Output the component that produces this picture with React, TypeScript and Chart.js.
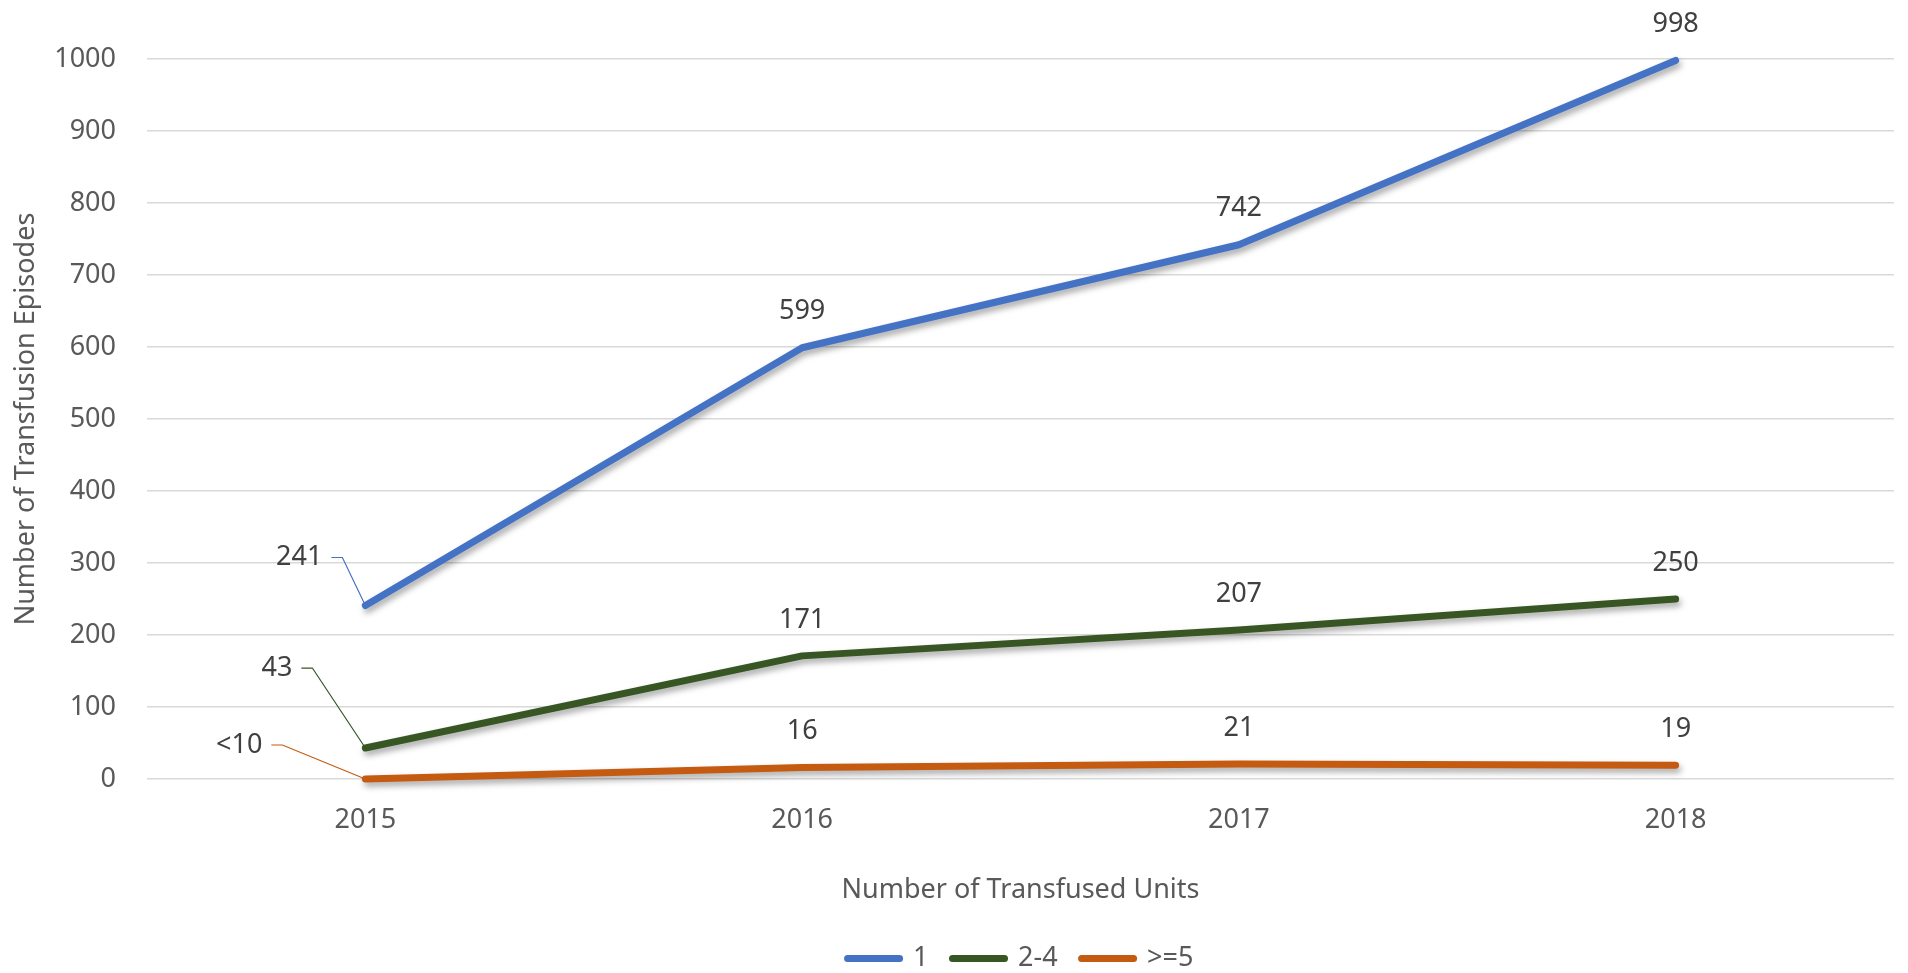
import React, { useEffect, useRef } from "react";
import { Chart, registerables } from "chart.js";

Chart.register(...registerables);

// ---- Data ----
const years = ["2015", "2016", "2017", "2018"];
const seriesNames = ["1", "2-4", ">=5"];
const oneUnit = [241, 599, 742, 998];
const twoToFour = [43, 171, 207, 250];
const fivePlus = [0, 16, 21, 19];
const oneUnitLabels = ["241", "599", "742", "998"];
const twoToFourLabels = ["43", "171", "207", "250"];
const fivePlusLabels = ["<10", "16", "21", "19"];
const yMin = 0;
const yMax = 1000;
const yStep = 100;
const xTitle = "Number of Transfused Units";
const yTitle = "Number of Transfusion Episodes";

// ---- Style ----
const COLORS = ["#4472C4", "#375623", "#C55A11"];
const FONT = '"Noto Sans", "Open Sans", sans-serif';
const AXIS_TEXT = "#595959";
const LABEL_TEXT = "#404040";
// callout placements (pixel offsets of the label's right edge from its point)
const CALLOUTS: Record<number, Record<number, { dx: number; dy: number }>> = {
  0: { 0: { dx: -43, dy: -48 } },
  1: { 0: { dx: -73, dy: -80 } },
  2: { 0: { dx: -103, dy: -34 } },
};

const shadowPlugin = {
  id: "lineShadow",
  beforeDatasetDraw(chart: any) {
    const ctx = chart.ctx;
    ctx.save();
    ctx.shadowColor = "rgba(0,0,0,0.35)";
    ctx.shadowBlur = 6;
    ctx.shadowOffsetX = 2;
    ctx.shadowOffsetY = 4;
  },
  afterDatasetDraw(chart: any) {
    chart.ctx.restore();
  },
};

const labelPlugin = {
  id: "valueLabels",
  afterDatasetsDraw(chart: any) {
    const ctx = chart.ctx;
    ctx.save();
    ctx.font = `27px ${FONT}`;
    ctx.fillStyle = LABEL_TEXT;
    ctx.textBaseline = "middle";
    chart.data.datasets.forEach((ds: any, di: number) => {
      const meta = chart.getDatasetMeta(di);
      meta.data.forEach((pt: any, i: number) => {
        const text = ds.valueLabels[i];
        const c = CALLOUTS[di] && CALLOUTS[di][i];
        if (c) {
          const rx = pt.x + c.dx;
          const ry = pt.y + c.dy;
          ctx.textAlign = "right";
          ctx.fillStyle = LABEL_TEXT;
          ctx.fillText(text, rx, ry);
          ctx.strokeStyle = ds.borderColor;
          ctx.lineWidth = 1.2;
          ctx.beginPath();
          ctx.moveTo(rx + 9, ry);
          ctx.lineTo(rx + 20, ry);
          ctx.lineTo(pt.x, pt.y);
          ctx.stroke();
        } else {
          ctx.textAlign = "center";
          ctx.fillStyle = LABEL_TEXT;
          ctx.fillText(text, pt.x, pt.y - 36);
        }
      });
    });
    ctx.restore();
  },
};

export default function App() {
  const canvasRef = useRef<HTMLCanvasElement | null>(null);

  useEffect(() => {
    if (!canvasRef.current) return;
    const mk = (i: number, data: number[], labels: string[]) => ({
      label: seriesNames[i],
      data,
      valueLabels: labels,
      borderColor: COLORS[i],
      backgroundColor: COLORS[i],
      borderWidth: 7,
      borderCapStyle: "round",
      borderJoinStyle: "round",
      pointRadius: 0,
      pointHoverRadius: 0,
      tension: 0,
      fill: false,
      clip: false,
    });
    const chart = new Chart(canvasRef.current, {
      type: "line",
      data: {
        labels: years,
        datasets: [
          mk(0, oneUnit, oneUnitLabels),
          mk(1, twoToFour, twoToFourLabels),
          mk(2, fivePlus, fivePlusLabels),
        ] as any,
      },
      options: {
        responsive: false,
        animation: false,
        layout: { padding: { top: 59, right: 14, bottom: 0, left: 0 } },
        plugins: {
          legend: {
            position: "bottom",
            fullSize: false,
            maxHeight: 52,
            labels: {
              usePointStyle: true,
              pointStyle: "line",
              pointStyleWidth: 52,
              padding: 24,
              color: AXIS_TEXT,
              font: { size: 27, family: FONT },
              generateLabels(chart: any) {
                const items = Chart.defaults.plugins.legend.labels.generateLabels(chart);
                return items.map((it: any, idx: number) => ({
                  ...it,
                  pointStyle: "line",
                  strokeStyle: COLORS[idx],
                  fillStyle: COLORS[idx],
                  lineWidth: 7,
                  lineCap: "round",
                }));
              },
            },
          },
          tooltip: { enabled: false },
        },
        scales: {
          x: {
            type: "category",
            offset: true,
            grid: { display: false, drawTicks: false },
            border: { display: false },
            ticks: {
              color: AXIS_TEXT,
              padding: 25,
              font: { size: 27, family: FONT },
            },
            title: {
              display: true,
              text: xTitle,
              color: AXIS_TEXT,
              padding: { top: 0, bottom: 14 },
              font: { size: 27, family: FONT },
            },
            afterFit(scale: any) {
              scale.height = 142;
            },
          },
          y: {
            min: yMin,
            max: yMax,
            ticks: {
              stepSize: yStep,
              color: AXIS_TEXT,
              padding: 31,
              font: { size: 27, family: FONT },
              callback: (v: any) => String(v),
            },
            grid: { color: "#d9d9d9", lineWidth: 1.5, drawTicks: false },
            border: { display: false },
            title: {
              display: true,
              text: yTitle,
              color: AXIS_TEXT,
              padding: { top: 10, bottom: 0 },
              font: { size: 27, family: FONT },
            },
            afterFit(scale: any) {
              scale.width = 147;
            },
          },
        },
      } as any,
      plugins: [shadowPlugin, labelPlugin],
    });
    return () => chart.destroy();
  }, []);

  return (
    <div style={{ position: "fixed", left: 0, top: 0, width: 1908, height: 973, background: "#ffffff" }}>
      <canvas ref={canvasRef} width={1908} height={973} style={{ display: "block" }} />
    </div>
  );
}
